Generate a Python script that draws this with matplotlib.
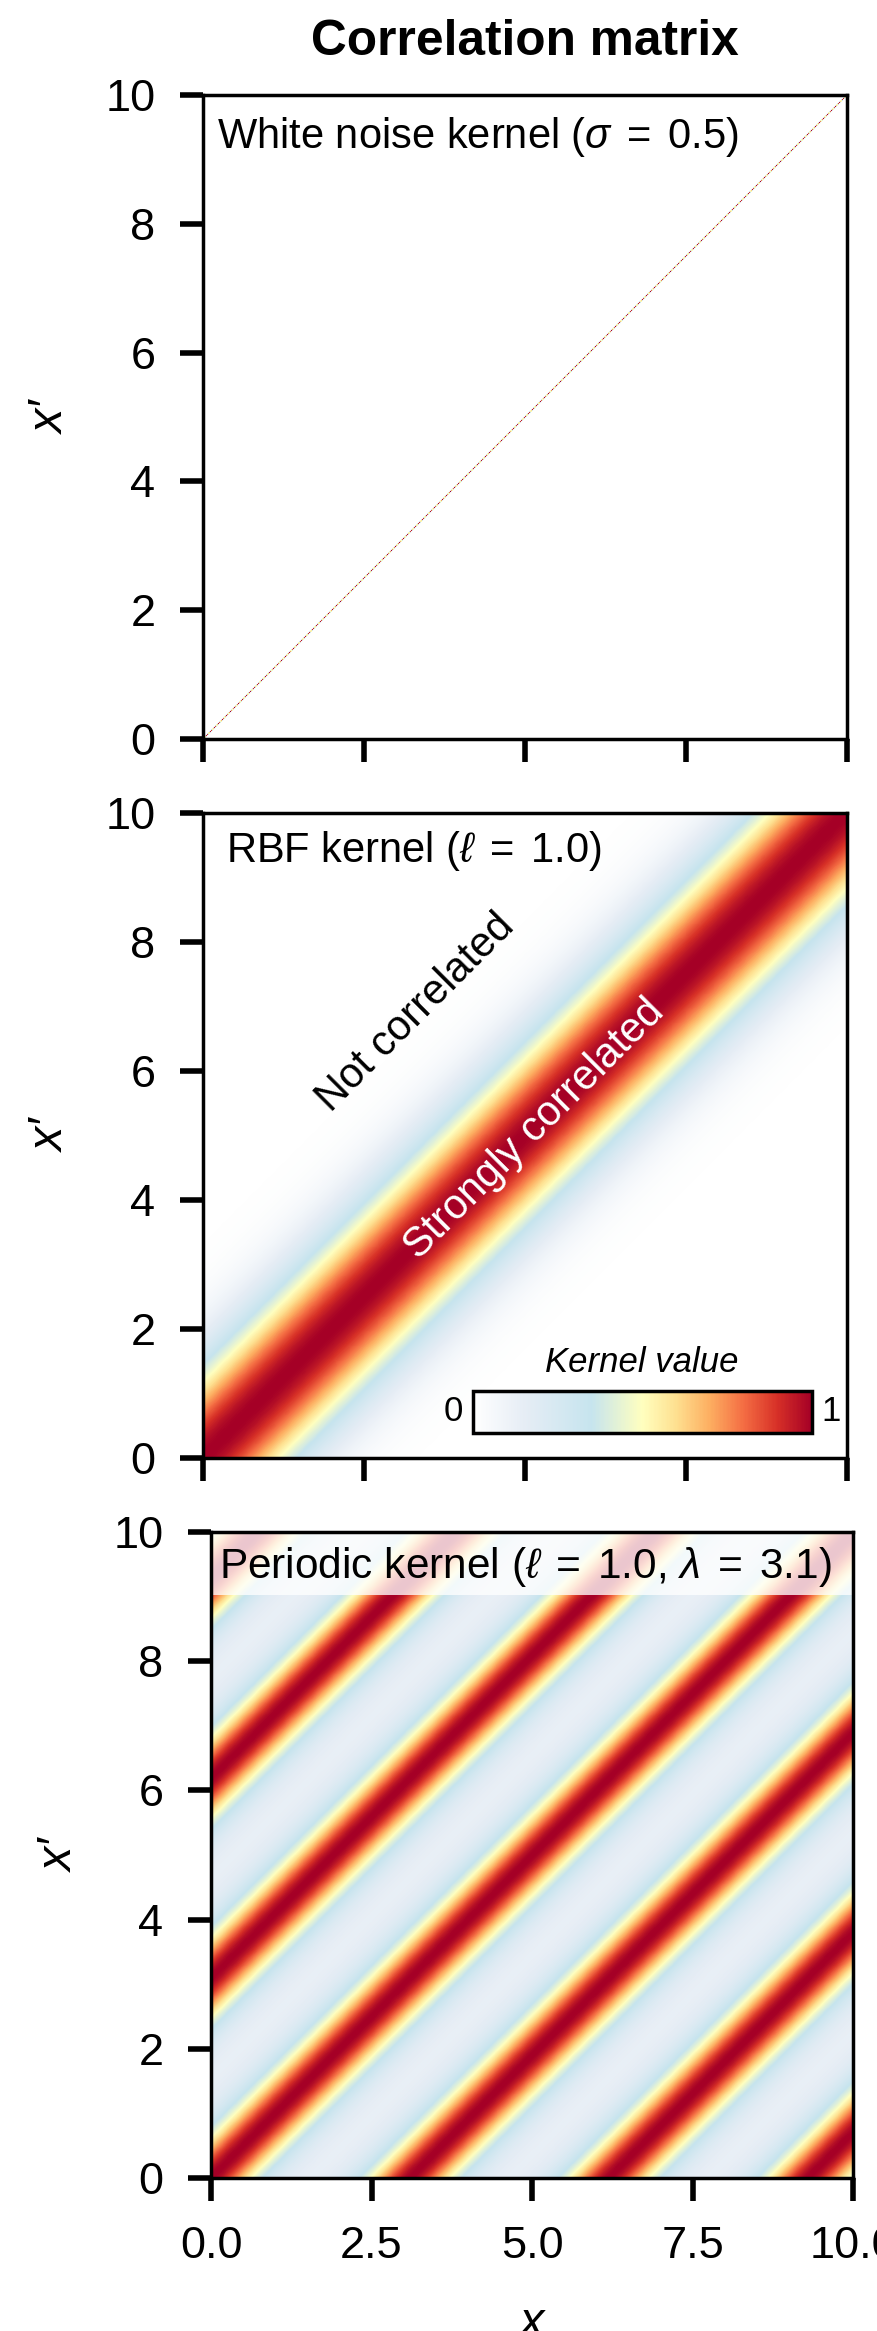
import numpy as np
import matplotlib
matplotlib.use('Agg')
import matplotlib.pyplot as plt
from matplotlib.colors import LinearSegmentedColormap
from matplotlib.patches import Rectangle

plt.rcParams['font.family'] = ['Liberation Sans', 'DejaVu Sans']
plt.rcParams['mathtext.fontset'] = 'custom'
plt.rcParams['mathtext.rm'] = 'Liberation Sans'
plt.rcParams['mathtext.it'] = 'Liberation Sans:italic'
plt.rcParams['mathtext.bf'] = 'Liberation Sans:bold'

# 数据 / 参数
xLo = 0.; xHi = 10.          # x 与 x' 的范围
wnNum = 480                  # white noise 网格点数
gridNum = 600                # 其余两个 kernel 的网格点数
wnSigma = 0.5
rbfL = 1.0
perL = 1.0
perLam = 3.1
yTicks = [0, 2, 4, 6, 8, 10]
xTicks = [0., 2.5, 5., 7.5, 10.]
xTickLabels = ['0.0', '2.5', '5.0', '7.5', '10.0']
panelTitles = [r'White noise kernel ($\sigma\;=\;%.1f$)' % wnSigma,
               r'RBF kernel ($\ell\;=\;%.1f$)' % rbfL,
               r'Periodic kernel ($\ell\;=\;%.1f$, $\lambda\;=\;%.1f$)' % (perL, perLam)]
cmapNodes = [0., 0.15, 0.35, 0.5, 0.6, 0.7, 0.8, 0.9, 1.]
cmapColors = ['#ffffff', '#e6edf5', '#c6e4ee', '#ffffbf', '#fee090',
              '#fdae61', '#f46d43', '#d73027', '#a50026']

cmap = LinearSegmentedColormap.from_list('kern', list(zip(cmapNodes, cmapColors)))

# kernel 矩阵（行 = x'，列 = x）
xs = np.linspace(xLo, xHi, gridNum)
d = xs[None, :] - xs[:, None]
kWn = np.eye(wnNum)
kRbf = np.exp(-d ** 2 / (2 * rbfL ** 2))
kPer = np.exp(-2 * np.sin(np.pi * np.abs(d) / perLam) ** 2 / perL ** 2)

W = 877.; H = 2331.
fig = plt.figure(figsize=(W / 250, H / 250), dpi=250)
# 各子图位置 (left, bottom, width, height)，像素
boxes = [(203, 739, 644, 644), (203, 1458, 644, 645), (211, 2178, 642, 646)]
axs = [fig.add_axes([l / W, (H - b) / H, w / W, h / H]) for l, b, w, h in boxes]

ims = []
for ax, k in zip(axs, [kWn, kRbf, kPer]):
    im = ax.imshow(k, origin='lower', extent=[xLo, xHi, xLo, xHi], cmap=cmap,
                   vmin=0, vmax=1, interpolation='antialiased',
                   interpolation_stage='data', aspect='auto')
    ims.append(im)
    ax.set_xlim(xLo, xHi); ax.set_ylim(xLo, xHi)
    ax.set_yticks(yTicks)
    ax.set_xticks(xTicks)
    ax.tick_params(direction='out', length=6.7, width=1.6, pad=7, labelsize=13)
    for s in ax.spines.values():
        s.set_linewidth(1.0)
    ax.set_ylabel('x\u2032', fontsize=14, style='italic')
    ax.yaxis.set_label_coords(-0.2, 0.5)

axs[0].set_xticklabels([]); axs[1].set_xticklabels([])
axs[2].set_xticklabels(xTickLabels)
axs[2].set_xlabel('x', fontsize=14, style='italic')
axs[2].xaxis.set_label_coords(0.5, -0.19)

axs[0].set_title('Correlation matrix', fontsize=14.3, fontweight='bold', pad=11.5)

# 面板标签
axs[0].text(0.021, 0.917, panelTitles[0], transform=axs[0].transAxes,
            fontsize=12, va='baseline', ha='left')
axs[1].text(0.036, 0.924, panelTitles[1], transform=axs[1].transAxes,
            fontsize=12, va='baseline', ha='left')
axs[2].add_patch(Rectangle((0, 0.902), 1, 0.098, transform=axs[2].transAxes,
                           facecolor='white', edgecolor='none', alpha=0.78))
axs[2].text(0.012, 0.929, panelTitles[2], transform=axs[2].transAxes,
            fontsize=12.2, va='baseline', ha='left')

# RBF 面板注释
axs[1].text(3.3, 6.9, 'Not correlated', rotation=45, fontsize=12,
            ha='center', va='center', color='black')
axs[1].text(5.15, 5.1, 'Strongly correlated', rotation=45, fontsize=12,
            ha='center', va='center', color='white')

# colorbar
cax = axs[1].inset_axes([0.419, 0.039, 0.526, 0.065])
cb = fig.colorbar(ims[1], cax=cax, orientation='horizontal')
cb.outline.set_linewidth(1.0)
cax.set_xticks([])
cax.text(0.5, 1.45, 'Kernel value', transform=cax.transAxes, ha='center',
         va='baseline', fontsize=10, style='italic')
cax.text(-0.03, 0.5, '0', transform=cax.transAxes, ha='right', va='center', fontsize=10)
cax.text(1.03, 0.5, '1', transform=cax.transAxes, ha='left', va='center', fontsize=10)

fig.savefig('out.png', dpi=250)
